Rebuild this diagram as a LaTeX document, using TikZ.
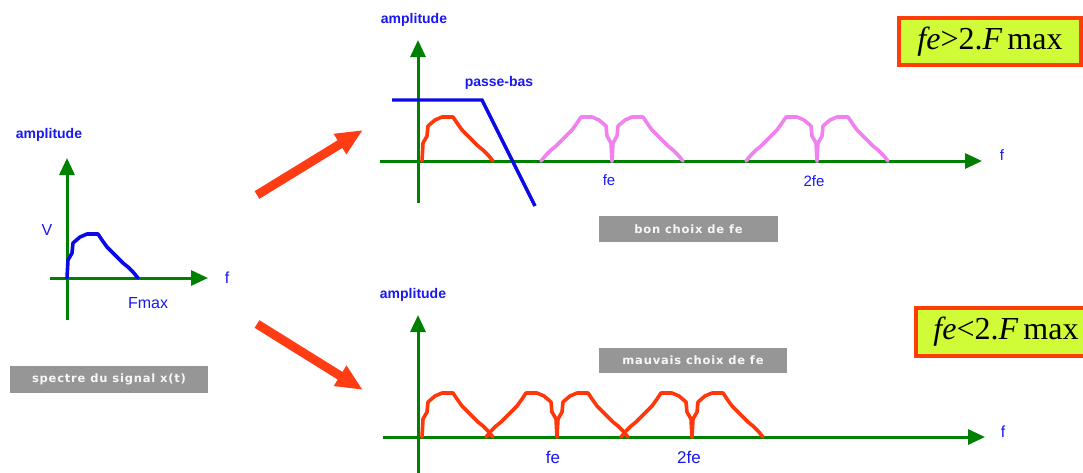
\documentclass[tikz,border=0pt]{standalone}
\usepackage{fontspec}
\setmainfont{Liberation Sans}
\newfontfamily\serifface{Liberation Serif}
\newfontfamily\grayface{DejaVu Sans}[LetterSpace=7]
\usetikzlibrary{arrows.meta}
\definecolor{axisgreen}{RGB}{0,128,0}
\definecolor{labelblue}{RGB}{25,25,240}
\definecolor{curveblue}{RGB}{10,10,230}
\definecolor{curvered}{RGB}{255,55,10}
\definecolor{curvepink}{RGB}{240,130,240}
\definecolor{boxgray}{RGB}{150,150,150}
\definecolor{formfill}{RGB}{208,252,55}
\definecolor{formborder}{RGB}{255,60,10}
\definecolor{bigarrow}{RGB}{255,60,20}
\tikzset{
  axisline/.style={draw=axisgreen, line width=3pt, -{Triangle[length=17pt,width=15pt]}},
  lobe/.style={line width=3.6pt, line join=round, line cap=round},
  ampl/.style={text=labelblue, font=\fontsize{14}{16}\selectfont\bfseries, inner sep=0pt},
  axlab/.style={text=labelblue, font=\fontsize{16}{18}\selectfont, inner sep=0pt},
  graybox/.style={fill=boxgray, text=white!94!gray, font=\grayface\bfseries\fontsize{11.5}{13}\selectfont, inner sep=0pt},
  formbox/.style={fill=formfill, draw=formborder, line width=3.5pt, inner sep=0pt, text=black, font=\serifface\fontsize{32}{36}\selectfont},
  fatarrow/.style={draw=bigarrow, line width=9pt, -{Triangle[length=27pt,width=22pt]}},
  passeline/.style={draw=curveblue, line width=3.4pt, line join=miter},
}
\def\lobepath{(0,0) -- (1,-18) -- (5,-25) -- (6,-35) -- (13,-41) -- (20,-44) -- (31,-44) -- (35,-38) -- (40,-31) -- (45,-26) -- (50,-21) -- (56,-15) -- (61,-11) -- (66,-6) -- (71,0)}
\begin{document}
\begin{tikzpicture}[x=1pt,y=-1pt]
\useasboundingbox (0,0) rectangle (1083,472);
\fill[white] (0,0) rectangle (1083,472);

% ---------- left graph ----------
\coordinate (lvb) at (67,320);
\coordinate (lvt) at (67,158);
\coordinate (lhl) at (50,278);
\coordinate (lhr) at (208,278);
\draw[axisline] (lvb) -- (lvt);
\draw[axisline] (lhl) -- (lhr);
\draw[lobe, curveblue, shift={(67,278)}] \lobepath;
\node[ampl] (lamp) at (49,135) {amplitude};
\node[axlab] (lv) at (47,230) {V};
\node[axlab] (lf) at (227,278) {f};
\node[axlab] (lfmax) at (148,303) {Fmax};
\node[graybox, minimum width=198pt, minimum height=27pt] (g1) at (109,379.5) {spectre du signal x(t)};

% ---------- big arrows ----------
\coordinate (a1s) at (257,195);
\coordinate (a1e) at (363,130);
\coordinate (a2s) at (257,324);
\coordinate (a2e) at (363,390);
\draw[fatarrow] (a1s) -- (a1e);
\draw[fatarrow] (a2s) -- (a2e);

% ---------- top graph ----------
\coordinate (tvb) at (418,203);
\coordinate (tvt) at (418,40);
\coordinate (thl) at (380,161);
\coordinate (thr) at (982,161);
\draw[axisline] (tvb) -- (tvt);
\draw[axisline] (thl) -- (thr);
\draw[lobe, curvered, shift={(422,161)}] \lobepath;
\draw[lobe, curvepink, shift={(612,161)}, xscale=-1] \lobepath;
\draw[lobe, curvepink, shift={(612,161)}] \lobepath;
\draw[lobe, curvepink, shift={(817,161)}, xscale=-1] \lobepath;
\draw[lobe, curvepink, shift={(817,161)}] \lobepath;
\coordinate (pb1) at (392,100);
\coordinate (pb2) at (482,100);
\coordinate (pb3) at (535,206);
\draw[passeline] (pb1) -- (pb2) -- (pb3);
\node[ampl] (tamp) at (414,20) {amplitude};
\node[ampl] (tpb) at (499,83) {passe-bas};
\node[axlab, font=\fontsize{15}{17}\selectfont] (tfe) at (609,180) {fe};
\node[axlab, font=\fontsize{15}{17}\selectfont] (t2fe) at (814,181) {2fe};
\node[axlab, font=\fontsize{15}{17}\selectfont] (tf) at (1002,155) {f};
\node[graybox, minimum width=179pt, minimum height=26pt] (g2) at (688.5,229) {bon choix de fe};
\node[formbox, minimum width=182pt, minimum height=47pt] (fm1) at (990,41.5) {{\itshape fe}>2.{\itshape F}\,max};

% ---------- bottom graph ----------
\coordinate (bvb) at (418,480);
\coordinate (bvt) at (418,315);
\coordinate (bhl) at (383,437);
\coordinate (bhr) at (985,437);
\draw[axisline] (bvb) -- (bvt);
\draw[axisline] (bhl) -- (bhr);
\draw[lobe, curvered, shift={(422,437)}] \lobepath;
\draw[lobe, curvered, shift={(557,437)}, xscale=-1] \lobepath;
\draw[lobe, curvered, shift={(557,437)}] \lobepath;
\draw[lobe, curvered, shift={(692,437)}, xscale=-1] \lobepath;
\draw[lobe, curvered, shift={(692,437)}] \lobepath;
\node[ampl] (bamp) at (413,295) {amplitude};
\node[axlab, font=\fontsize{17}{19}\selectfont] (bfe) at (553,457) {fe};
\node[axlab, font=\fontsize{17}{19}\selectfont] (b2fe) at (689,457) {2fe};
\node[axlab] (bf) at (1003,432) {f};
\node[graybox, minimum width=188pt, minimum height=25pt] (g3) at (693,360.5) {mauvais choix de fe};
\node[formbox, minimum width=180pt, minimum height=48pt] (fm2) at (1006,332) {{\itshape fe}<2.{\itshape F}\,max};
\end{tikzpicture}
\end{document}
